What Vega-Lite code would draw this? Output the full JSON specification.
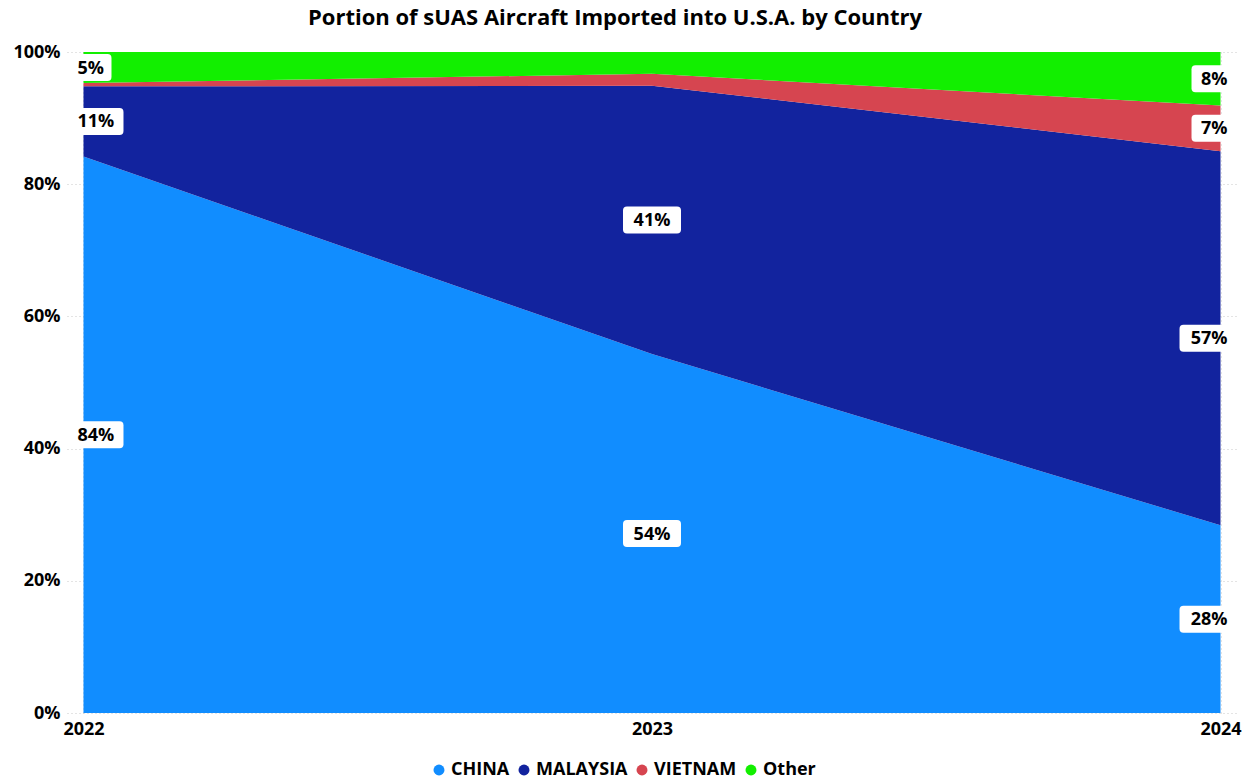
{
  "$schema": "https://vega.github.io/schema/vega-lite/v6.json",
  "width": 1170,
  "height": 661,
  "autosize": {"type": "none"},
  "padding": {"left": 67, "top": 52, "right": 13, "bottom": 67},
  "background": "white",
  "title": {
    "text": "Portion of sUAS Aircraft Imported into U.S.A. by Country",
    "font": "Open Sans",
    "fontSize": 22,
    "fontWeight": "bold",
    "color": "#000000",
    "anchor": "middle",
    "offset": 13,
    "dx": -37
  },
  "data": {
    "values": [
      {"year": "2022", "country": "CHINA", "value": 0.842},
      {"year": "2022", "country": "MALAYSIA", "value": 0.106},
      {"year": "2022", "country": "VIETNAM", "value": 0.005},
      {"year": "2022", "country": "Other", "value": 0.047},
      {"year": "2023", "country": "CHINA", "value": 0.543},
      {"year": "2023", "country": "MALAYSIA", "value": 0.406},
      {"year": "2023", "country": "VIETNAM", "value": 0.018},
      {"year": "2023", "country": "Other", "value": 0.033},
      {"year": "2024", "country": "CHINA", "value": 0.284},
      {"year": "2024", "country": "MALAYSIA", "value": 0.566},
      {"year": "2024", "country": "VIETNAM", "value": 0.069},
      {"year": "2024", "country": "Other", "value": 0.081}
    ]
  },
  "transform": [
    {"calculate": "indexof(['CHINA','MALAYSIA','VIETNAM','Other'], datum.country)", "as": "ord"},
    {"stack": "value", "groupby": ["year"], "sort": [{"field": "ord", "order": "ascending"}], "as": ["v0", "v1"]},
    {"calculate": "(datum.v0 + datum.v1) / 2", "as": "mid"},
    {"calculate": "format(datum.value, '.0%')", "as": "label"},
    {"calculate": "datum.year + '-' + length(format(datum.value, '.0%'))", "as": "boxkey"}
  ],
  "encoding": {
    "x": {
      "field": "year",
      "type": "ordinal",
      "scale": {"type": "point", "padding": 0.029, "domain": ["2022", "2023", "2024"]},
      "axis": {
        "title": null,
        "labelAngle": 0,
        "labelFont": "Open Sans",
        "labelFontSize": 18,
        "labelFontWeight": "bold",
        "labelColor": "#000000",
        "labelPadding": 7,
        "labelOverlap": false,
        "domain": false,
        "ticks": false,
        "grid": true,
        "gridColor": "#c8c8c8",
        "gridDash": [1, 3]
      }
    }
  },
  "layer": [
    {
      "mark": {"type": "area", "opacity": 1, "interpolate": "linear"},
      "encoding": {
        "y": {
          "field": "v1",
          "type": "quantitative",
          "scale": {"domain": [0, 1], "nice": false},
          "axis": {
            "title": null,
            "values": [0, 0.2, 0.4, 0.6, 0.8, 1],
            "format": ".0%",
            "labelFont": "Open Sans",
            "labelFontSize": 18,
            "labelFontWeight": "bold",
            "labelColor": "#000000",
            "labelPadding": 7,
            "labelOverlap": false,
            "domain": false,
            "ticks": false,
            "grid": true,
            "gridColor": "#c8c8c8",
            "gridDash": [1, 3]
          }
        },
        "y2": {"field": "v0"},
        "color": {
          "field": "country",
          "type": "nominal",
          "scale": {
            "domain": ["CHINA", "MALAYSIA", "VIETNAM", "Other"],
            "range": ["#118DFF", "#12239E", "#D64550", "#12EF00"]
          },
          "legend": {
            "title": null,
            "orient": "none",
            "direction": "horizontal",
            "legendX": 363,
            "legendY": 709,
            "symbolType": "circle",
            "symbolSize": 120,
            "symbolStrokeWidth": 0,
            "labelFont": "Open Sans",
            "labelFontSize": 18,
            "labelFontWeight": "bold",
            "labelColor": "#000000",
            "labelOffset": 3,
            "columnPadding": 5
          }
        },
        "order": {"field": "ord", "type": "quantitative"}
      }
    },
    {
      "transform": [{"filter": "datum.value >= 0.04"}],
      "mark": {"type": "point", "filled": true, "fill": "white", "opacity": 1, "size": 4, "strokeWidth": 0},
      "encoding": {
        "y": {"field": "mid", "type": "quantitative"},
        "shape": {
          "field": "boxkey",
          "type": "nominal",
          "scale": {
            "domain": ["2022-3", "2022-2", "2023-3", "2023-2", "2024-3", "2024-2"],
            "range": [
              "M-14,-13.5 L36,-13.5 Q40,-13.5 40,-9.5 L40,9.5 Q40,13.5 36,13.5 L-14,13.5 Q-18,13.5 -18,9.5 L-18,-9.5 Q-18,-13.5 -14,-13.5 Z",
              "M-14,-13.5 L24,-13.5 Q28,-13.5 28,-9.5 L28,9.5 Q28,13.5 24,13.5 L-14,13.5 Q-18,13.5 -18,9.5 L-18,-9.5 Q-18,-13.5 -14,-13.5 Z",
              "M-25,-13.5 L25,-13.5 Q29,-13.5 29,-9.5 L29,9.5 Q29,13.5 25,13.5 L-25,13.5 Q-29,13.5 -29,9.5 L-29,-9.5 Q-29,-13.5 -25,-13.5 Z",
              "M-19,-13.5 L19,-13.5 Q23,-13.5 23,-9.5 L23,9.5 Q23,13.5 19,13.5 L-19,13.5 Q-23,13.5 -23,9.5 L-23,-9.5 Q-23,-13.5 -19,-13.5 Z",
              "M-37,-13.5 L13,-13.5 Q17,-13.5 17,-9.5 L17,9.5 Q17,13.5 13,13.5 L-37,13.5 Q-41,13.5 -41,9.5 L-41,-9.5 Q-41,-13.5 -37,-13.5 Z",
              "M-25,-13.5 L13,-13.5 Q17,-13.5 17,-9.5 L17,9.5 Q17,13.5 13,13.5 L-25,13.5 Q-29,13.5 -29,9.5 L-29,-9.5 Q-29,-13.5 -25,-13.5 Z"
            ]
          },
          "legend": null
        }
      }
    },
    {
      "transform": [{"filter": "datum.value >= 0.04 && datum.year == '2022'"}],
      "mark": {"type": "text", "align": "left", "baseline": "middle", "dx": -6, "dy": 1, "font": "Open Sans", "fontSize": 18, "fontWeight": "bold", "color": "#000000"},
      "encoding": {
        "y": {"field": "mid", "type": "quantitative"},
        "text": {"field": "label", "type": "nominal"}
      }
    },
    {
      "transform": [{"filter": "datum.value >= 0.04 && datum.year == '2023'"}],
      "mark": {"type": "text", "align": "center", "baseline": "middle", "dy": 1, "font": "Open Sans", "fontSize": 18, "fontWeight": "bold", "color": "#000000"},
      "encoding": {
        "y": {"field": "mid", "type": "quantitative"},
        "text": {"field": "label", "type": "nominal"}
      }
    },
    {
      "transform": [{"filter": "datum.value >= 0.04 && datum.year == '2024'"}],
      "mark": {"type": "text", "align": "right", "baseline": "middle", "dx": 7, "dy": 1, "font": "Open Sans", "fontSize": 18, "fontWeight": "bold", "color": "#000000"},
      "encoding": {
        "y": {"field": "mid", "type": "quantitative"},
        "text": {"field": "label", "type": "nominal"}
      }
    }
  ],
  "config": {
    "view": {"stroke": null}
  }
}
